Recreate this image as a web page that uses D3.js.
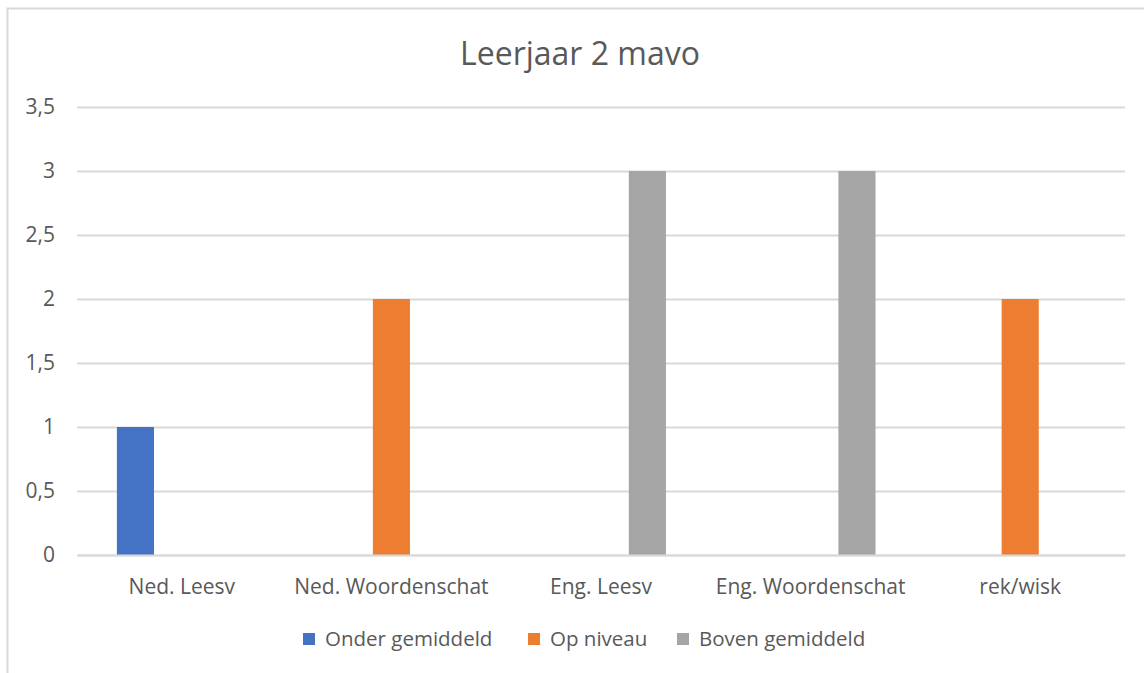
<!DOCTYPE html>
<html>
<head>
<meta charset="utf-8">
<script src="https://cdn.jsdelivr.net/npm/d3@7"></script>
<style>
  body { margin: 0; background: #fff; }
  svg text { font-family: "Open Sans", "Noto Sans", sans-serif; fill: #595959; }
</style>
</head>
<body>
<div id="chart"></div>
<script>
'use strict'

const title = 'Leerjaar 2 mavo'
const categories = ['Ned. Leesv', 'Ned. Woordenschat', 'Eng. Leesv', 'Eng. Woordenschat', 'rek/wisk']
const seriesNames = ['Onder gemiddeld', 'Op niveau', 'Boven gemiddeld']
const onderGemiddeld = [1, 0, 0, 0, 0]
const opNiveau = [0, 2, 0, 0, 2]
const bovenGemiddeld = [0, 0, 3, 3, 0]
const yTicks = [0, 0.5, 1, 1.5, 2, 2.5, 3, 3.5]
const colors = ['#4472c4', '#ed7d31', '#a5a5a5']

function draw() {
  const seriesValues = [onderGemiddeld, opNiveau, bovenGemiddeld]
  const dataset = categories.map((c, i) => ({
    category: c,
    values: seriesNames.map((s, j) => ({ series: s, value: seriesValues[j][i] })),
  }))

  // Set dimensions
  let dimensions = {
    width: 1144,
    height: 673,
    margin: {
      top: 107,
      right: 19,
      bottom: 118,
      left: 77,
    },
  }
  dimensions.containerWidth =
    dimensions.width - dimensions.margin.left - dimensions.margin.right
  dimensions.containerHeight =
    dimensions.height - dimensions.margin.top - dimensions.margin.bottom

  const svg = d3
    .select('#chart')
    .append('svg')
    .attr('width', dimensions.width)
    .attr('height', dimensions.height)

  // Chart border
  svg
    .append('rect')
    .attr('x', 7.5)
    .attr('y', 8.5)
    .attr('width', 1160)
    .attr('height', 700)
    .attr('fill', 'none')
    .attr('stroke', '#d9d9d9')
    .attr('stroke-width', 2)

  // Title
  svg
    .append('text')
    .attr('x', 580)
    .attr('y', 65)
    .attr('text-anchor', 'middle')
    .style('font-size', '32px')
    .text(title)

  const container = svg
    .append('g')
    .attr('transform', `translate(${dimensions.margin.left}, ${dimensions.margin.top})`)

  // Scales
  const xScale = d3
    .scaleBand()
    .domain(categories)
    .range([0, dimensions.containerWidth])

  const seriesScale = d3
    .scaleBand()
    .domain(seriesNames)
    .range([0, xScale.bandwidth()])
    .paddingInner(0.2)
    .paddingOuter(0.86)

  const yScale = d3
    .scaleLinear()
    .domain([0, 3.5])
    .range([dimensions.containerHeight, 0])

  // Gridlines + Y axis
  const yAxis = d3
    .axisLeft(yScale)
    .tickValues(yTicks)
    .tickSize(-dimensions.containerWidth)
    .tickPadding(22)
    .tickFormat((d) => String(d).replace('.', ','))

  const yAxisGroup = container.append('g').call(yAxis)
  yAxisGroup.select('.domain').remove()
  yAxisGroup.selectAll('line').attr('stroke', '#d9d9d9').attr('stroke-width', 2)
  yAxisGroup
    .selectAll('text')
    .style('font-size', '21px')
    .attr('fill', '#595959')

  // Bars
  container
    .selectAll('.group')
    .data(dataset)
    .join('g')
    .attr('class', 'group')
    .attr('transform', (d) => `translate(${xScale(d.category)}, 0)`)
    .selectAll('rect')
    .data((d) => d.values.filter((v) => v.value > 0))
    .join('rect')
    .attr('x', (d) => seriesScale(d.series))
    .attr('y', (d) => yScale(d.value))
    .attr('width', seriesScale.bandwidth())
    .attr('height', (d) => yScale(0) - yScale(d.value))
    .attr('fill', (d) => colors[seriesNames.indexOf(d.series)])

  // X axis
  const xAxis = d3.axisBottom(xScale).tickSize(0).tickPadding(24)
  const xAxisGroup = container
    .append('g')
    .attr('transform', `translate(0, ${dimensions.containerHeight})`)
    .call(xAxis)
  xAxisGroup.select('.domain').attr('stroke', '#d9d9d9').attr('stroke-width', 2)
  xAxisGroup
    .selectAll('text')
    .style('font-size', '21px')
    .attr('fill', '#595959')

  // Legend
  const legendX = [303, 528, 677]
  const legend = svg
    .selectAll('.legend')
    .data(seriesNames)
    .join('g')
    .attr('class', 'legend')
    .attr('transform', (d, i) => `translate(${legendX[i]}, 633)`)

  legend
    .append('rect')
    .attr('width', 12)
    .attr('height', 12)
    .attr('fill', (d, i) => colors[i])

  legend
    .append('text')
    .attr('x', 22)
    .attr('y', 13)
    .style('font-size', '20.5px')
    .text((d) => d)
}

draw()
</script>
</body>
</html>
